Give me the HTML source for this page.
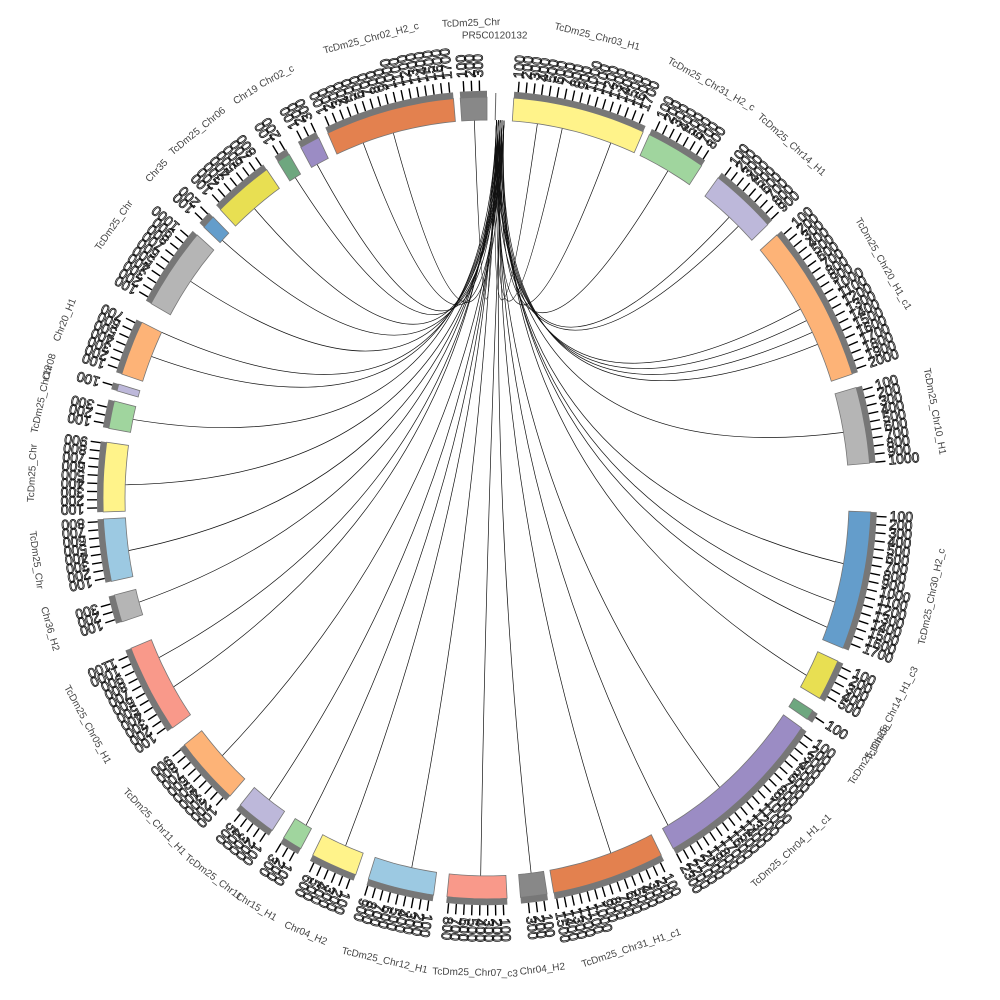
<!DOCTYPE html>
<html><head><meta charset="utf-8"><style>html,body{margin:0;padding:0;background:#fff}svg{display:block}</style></head>
<body>
<svg id="s" width="1000" height="1000" viewBox="0 0 1000 1000" xmlns="http://www.w3.org/2000/svg"></svg>
<script>
var cx=487,cy=498,sy=1.044;
function P(a,r){var t=a*Math.PI/180;return [cx+r*Math.sin(t),cy-r*Math.cos(t)*sy];}
var segs=[
["#fff38a",4,24,"TcDm25_Chr03_H1"],["#a0d59e",25,34,"TcDm25_Chr31_H2_c"],["#bdb8da",37,47,"TcDm25_Chr14_H1"],
["#fdb377",49,72,"TcDm25_Chr20_H1_c1"],["#b5b5b5",74,85,"TcDm25_Chr10_H1"],["#649dcb",92,112,"TcDm25_Chr30_H2_c"],
["#e8df52",114,120,"TcDm25_Chr14_H1_c3"],["#6ea77f",122,123.5,"TcDm25_Chr08"],["#9b8cc4",125,151,"TcDm25_Chr04_H1_c1"],
["#e3814f",153,170,"TcDm25_Chr31_H1_c1"],["#888888",171,175,"Chr04_H2"],["#f9998a",177,186,"TcDm25_Chr07_c3"],
["#9cc9e2",188,198,"TcDm25_Chr12_H1"],["#fff38a",200,207,"Chr04_H2"],["#a0d59e",209,212,"Chr15_H1"],
["#bdb8da",214,220,"TcDm25_Chr11"],["#fdb377",222,232,"TcDm25_Chr11_H1"],["#f9998a",235,248,"TcDm25_Chr05_H1"],
["#b5b5b5",252,256,"Chr36_H2"],["#9cc9e2",258,267,"TcDm25_Chr"],["#fff38a",268,278,"TcDm25_Chr"],
["#a0d59e",280,284,"TcDm25_Chr12"],["#bdb8da",285.5,286.5,"Chr08"],["#fdb377",288,296,"Chr20_H1"],
["#b5b5b5",299,311,"TcDm25_Chr"],["#649dcb",312.5,314.5,"Chr35"],["#e8df52",316,325,"TcDm25_Chr06"],
["#6ea77f",327,329,"Chr19"],["#9b8cc4",331,334,"Chr02_c"],["#e3814f",335.5,355,"TcDm25_Chr02_H2_c"],
["#888888",356,360,"TcDm25_Chr"]];
var h='';
var tg=[8,12,20,30,42,44,60,62,64,66,80,100,106,110,118,140,150,160,173,181,192,203,210,217,227,240,245,254,262,272,282,292,296,305,313,320,328,332,340,345,358];
tg.forEach(function(a,i){var s=P(1.5+(i%5)*0.3,362),e=P(a,362);
h+='<path d="M'+s[0]+','+s[1]+' Q'+cx+','+(cy-20)+' '+e[0]+','+e[1]+'" fill="none" stroke="#111" stroke-width="0.7"/>';});
function arc(a1,a2,r1,r2,fill,stroke){var n=Math.max(2,Math.ceil((a2-a1)/1)),pts=[];
for(var i=0;i<=n;i++)pts.push(P(a1+(a2-a1)*i/n,r2));for(var i=n;i>=0;i--)pts.push(P(a1+(a2-a1)*i/n,r1));
return '<polygon points="'+pts.map(function(p){return p[0].toFixed(1)+','+p[1].toFixed(1)}).join(' ')+'" fill="'+fill+'" stroke="'+(stroke||'none')+'" stroke-width="0.8"/>';}
segs.forEach(function(s){
h+=arc(s[1],s[2],362,384,s[0],'#777');
h+=arc(s[1],s[2],384,390,'#777');
var k=1;for(var a=s[1]+0.6;a<s[2];a+=1.15,k++){var p1=P(a,390),p2=P(a,400);
h+='<line x1="'+p1[0]+'" y1="'+p1[1]+'" x2="'+p2[0]+'" y2="'+p2[1]+'" stroke="#000" stroke-width="1.4"/>';
var p3=P(a,403),rot=a-90;
h+='<text x="'+p3[0]+'" y="'+p3[1]+'" font-family="Liberation Sans,sans-serif" font-size="14" fill="none" stroke="#111" stroke-width="0.8" dominant-baseline="middle" transform="rotate('+rot+' '+p3[0]+' '+p3[1]+')">'+(k*100)+'</text>';}
var m=(s[1]+s[2])/2,p=P(m,455),r=m;if(m>90&&m<270)r=m+180;
h+='<text x="'+p[0]+'" y="'+p[1]+'" font-family="Liberation Sans,sans-serif" font-size="10" fill="#444" text-anchor="middle" dominant-baseline="middle" transform="rotate('+r+' '+p[0]+' '+p[1]+')">'+s[3]+'</text>';
});
var a=P(1.3,362),b=P(1.3,388);
h+='<line x1="'+a[0]+'" y1="'+a[1]+'" x2="'+b[0]+'" y2="'+b[1]+'" stroke="#666" stroke-width="1"/>';
var t=P(1,440);h+='<text x="'+t[0]+'" y="'+t[1]+'" font-family="Liberation Sans,sans-serif" font-size="10" fill="#444" text-anchor="middle">PR5C0120132</text>';
document.getElementById('s').innerHTML=h;
</script>
</body></html>
